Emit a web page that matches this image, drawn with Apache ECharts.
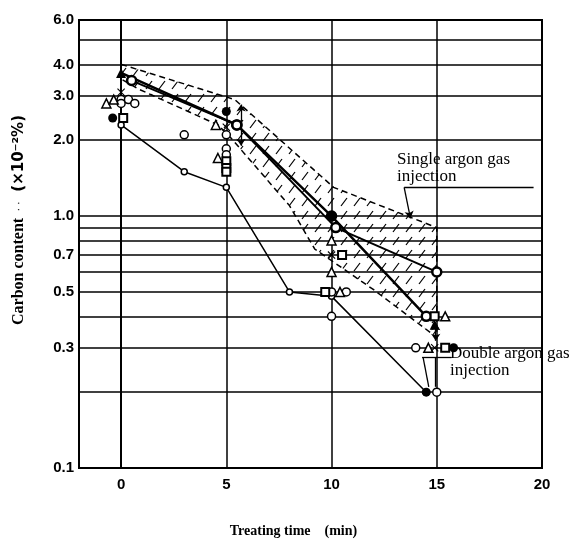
<!DOCTYPE html>
<html><head><meta charset="utf-8">
<script src="https://cdn.jsdelivr.net/npm/echarts@6/dist/echarts.min.js"></script>
<style>html,body{margin:0;padding:0;background:#fff}#c{width:584px;height:543px}</style>
</head><body><div id="c"></div>
<script>
// ---- data ----
const xTickValues = [0, 5, 10, 15, 20];
const yGridValues = [0.1, 0.2, 0.3, 0.4, 0.5, 0.6, 0.7, 0.8, 0.9, 1, 2, 3, 4, 5, 6];
const yLabelValues = [0.1, 0.3, 0.5, 0.7, 1, 2, 3, 4, 6];

const line1 = [[0, 3.7], [5.5, 2.3], [10, 1.0], [14.5, 0.4]];
const line2 = [[0.5, 3.45], [5.5, 2.3], [10.2, 0.9], [15, 0.6]];
const line3 = [[0, 2.3], [3, 1.5], [5, 1.3], [8, 0.5], [10, 0.48], [14.5, 0.2]];

const openCircles = [[0, 2.9], [0, 2.8], [0.35, 2.9], [0.65, 2.8], [3, 2.1], [5, 2.1], [5, 1.85], [5, 1.75],
  [10, 0.5], [10.7, 0.5], [10, 0.4], [14, 0.3], [15, 0.2]];
const openTriangles = [[-0.7, 2.8], [-0.35, 2.9], [4.5, 2.3], [4.6, 1.7], [10, 0.8], [10, 0.6], [10.4, 0.5],
  [15.4, 0.4], [14.6, 0.3]];
const openSquares = [[0.1, 2.45], [5, 1.65], [5, 1.55], [5, 1.5], [9.7, 0.5], [14.9, 0.4], [10.5, 0.7], [15.4, 0.3]];
const crosses = [[0, 3.1], [5, 2.25], [10, 0.7], [14.9, 0.3]];
const filledCircles = [[-0.4, 2.45], [5, 2.6], [10, 1.0], [15.8, 0.3], [14.5, 0.2]];
const filledTriangles = [[0, 3.7], [14.9, 0.37]];

const singleBand = [[0, 4.0], [5.4, 2.9], [10.1, 1.3], [15, 0.9], [15, 0.33], [12, 0.51], [9.2, 0.74],
  [8, 1.1], [5.2, 2.05], [4.6, 2.3], [0.8, 3.2], [0, 3.5]];

const rangeArrows = [[[5.7, 2.77], [5.7, 1.9]], [[14.95, 0.375], [14.95, 0.32]]];
const singlePointer = [[[19.6, 1.3], [13.45, 1.3]], [[13.45, 1.3], [13.75, 0.98]]];
const doublePointer = [[[15.7, 0.275], [14.3, 0.275]], [[14.35, 0.275], [14.62, 0.21]], [[14.93, 0.275], [14.93, 0.21]]];

// ---- hatch pattern ----
const hatch = document.createElement('canvas');
hatch.width = 13; hatch.height = 13;
(function () {
  const g = hatch.getContext('2d');
  g.strokeStyle = '#000'; g.lineWidth = 1.2;
  g.beginPath(); g.moveTo(3, 11); g.lineTo(9, 3); g.stroke();
})();

const crossPath = 'path://M0,1L1,0L5,4L9,0L10,1L6,5L10,9L9,10L5,6L1,10L0,9L4,5Z';

function scatter(data, symbol, size, filled, bw) {
  return {
    type: 'scatter', data: data, symbol: symbol, symbolSize: size, z: 5,
    itemStyle: { color: filled ? '#000' : '#fff', borderColor: '#000', borderWidth: filled ? 0 : (bw || 1.5), opacity: 1 }
  };
}
function lineSeries(data, width, symbolSize, bw, skipFirst) {
  return {
    type: 'line', data: data, showSymbol: true, z: 4, symbolSize: symbolSize,
    symbol: skipFirst ? function (v, p) { return p.dataIndex === 0 ? 'none' : 'circle'; } : 'circle',
    lineStyle: { color: '#000', width: width },
    itemStyle: { color: '#fff', borderColor: '#000', borderWidth: bw }
  };
}
function arrowLines(pairs, symbols) {
  return pairs.map(p => [
    { coord: p[0], symbol: symbols[0] },
    { coord: p[1], symbol: symbols[1] }
  ]);
}

const chart = echarts.init(document.getElementById('c'));
chart.setOption({
  animation: false,
  backgroundColor: '#fff',
  grid: { left: 79, right: 42, top: 20, bottom: 75, show: true, borderColor: '#000', borderWidth: 2 },
  xAxis: {
    type: 'value', min: -2, max: 20,
    name: 'Treating time　(min)', nameLocation: 'middle', nameGap: 56,
    nameTextStyle: { fontFamily: 'Liberation Serif', fontWeight: 'bold', fontSize: 14, color: '#000', padding: [0, 34, 0, 0] },
    axisLine: { show: true, onZero: false, lineStyle: { color: '#000', width: 2 } },
    axisTick: { show: false, customValues: xTickValues },
    axisLabel: { customValues: xTickValues, margin: 9, fontFamily: 'Liberation Sans', fontWeight: 'bold', fontSize: 15, color: '#000' },
    splitLine: { show: true, lineStyle: { color: '#000', width: 1.5 } }
  },
  yAxis: {
    type: 'log', logBase: 10, min: 0.1, max: 6,
    name: '{a|Carbon content}  {b|· ·}   {c|(×10⁻²%)}', nameLocation: 'middle', nameGap: 52, nameRotate: 90,
    nameTextStyle: {
      color: '#000', padding: [0, 0, 0, 48],
      rich: {
        a: { fontFamily: 'Liberation Serif', fontWeight: 'bold', fontSize: 16, color: '#000' },
        b: { fontFamily: 'DejaVu Sans', fontSize: 10, color: '#000' },
        c: { fontFamily: 'DejaVu Sans', fontWeight: 'bold', fontSize: 15, color: '#000' }
      }
    },
    axisLine: { show: true, lineStyle: { color: '#000', width: 2 } },
    axisTick: { show: false, customValues: yGridValues },
    axisLabel: {
      customValues: yLabelValues, margin: 5, fontFamily: 'Liberation Sans', fontWeight: 'bold', fontSize: 15, color: '#000',
      formatter: v => Number(v).toFixed(1)
    },
    splitLine: { show: true, lineStyle: { color: '#000', width: 1.5 } },
    minorSplitLine: { show: false }
  },
  graphic: [
    { type: 'text', left: 397, top: 151, style: { text: 'Single argon gas\ninjection', font: '17px "Liberation Serif"', fill: '#000', lineHeight: 17 } },
    { type: 'text', left: 450, top: 345, style: { text: 'Double argon gas\ninjection', font: '17px "Liberation Serif"', fill: '#000', lineHeight: 17 } }
  ],
  series: [
    {
      type: 'custom', z: 1, silent: true, data: singleBand, encode: { x: 0, y: 1 },
      renderItem: function (params, api) {
        if (params.dataIndex !== 0) return null;
        const pts = singleBand.map(p => api.coord(p));
        return {
          type: 'polygon', shape: { points: pts },
          style: { fill: { image: hatch, repeat: 'repeat' }, stroke: '#000', lineWidth: 1.5, lineDash: [6, 4] }
        };
      }
    },
    lineSeries(line3, 1.5, 6, 1.5, false),
    lineSeries(line2, 2, 9, 2.5, false),
    lineSeries(line1, 2.5, 9, 2.5, true),
    scatter(openCircles, 'circle', 8, false, 1.5),
    scatter(openTriangles, 'triangle', 9, false, 1.5),
    scatter(openSquares, 'rect', 8, false, 2),
    scatter(crosses, crossPath, 8, true),
    scatter(filledCircles, 'circle', 9, true),
    scatter(filledTriangles, 'triangle', 10, true),
    {
      type: 'line', data: [], silent: true,
      markLine: {
        silent: true, animation: false, symbolSize: 7, label: { show: false },
        lineStyle: { color: '#000', width: 1.3, type: 'solid' },
        data: [].concat(
          arrowLines(rangeArrows, ['arrow', 'arrow']),
          arrowLines(singlePointer.slice(0, 1), ['none', 'none']),
          arrowLines(singlePointer.slice(1), ['none', 'arrow']),
          arrowLines(doublePointer.slice(0, 1), ['none', 'none']),
          arrowLines(doublePointer.slice(1), ['none', 'none'])
        )
      }
    }
  ]
});
</script>
</body></html>
